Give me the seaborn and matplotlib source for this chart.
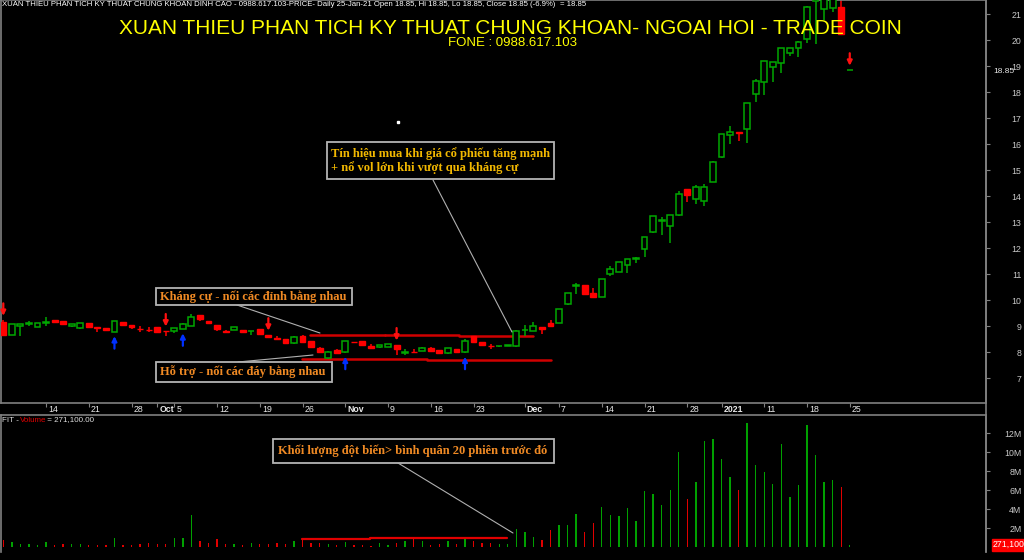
import numpy as np
import pandas as pd
import seaborn as sns
import matplotlib
matplotlib.use("Agg")
import matplotlib.pyplot as plt
import matplotlib.transforms as mtrans
from matplotlib.patches import Rectangle
from matplotlib.lines import Line2D

# ---------------- data ----------------
opens = [9.14, 8.65, 9.00, 9.08, 8.98, 9.12, 9.22, 9.20, 9.00, 8.91,
         9.10, 8.97, 8.91, 8.78, 9.14, 9.03, 8.90, 8.86, 8.95, 8.81,
         8.81, 8.89, 9.00, 9.42, 9.20, 9.04, 8.82, 8.86, 8.85, 8.79,
         8.87, 8.65, 8.53, 8.49, 8.33, 8.63, 8.42, 8.17, 7.76, 8.07,
         7.99, 8.38, 8.42, 8.23, 8.18, 8.20, 8.27, 7.98, 8.01, 8.05,
         8.17, 8.08, 7.95, 8.10, 7.99, 8.62, 8.38, 8.24, 8.22, 8.24,
         8.22, 8.84, 8.82, 8.97, 9.13, 9.13, 9.83, 10.53, 10.58, 10.26,
         10.13, 10.99, 11.09, 11.33, 11.57, 11.96, 12.63, 13.03, 12.86, 13.26,
         14.27, 13.87, 13.82, 14.55, 15.49, 16.35, 16.46, 16.57, 17.91, 18.37,
         18.95, 19.13, 19.49, 19.68, 20.03, 21.50, 21.18, 21.23, 21.26, 18.85]
highs = [9.23, 9.08, 9.09, 9.20, 9.11, 9.33, 9.23, 9.21, 9.07, 9.11,
         9.11, 8.98, 8.92, 9.20, 9.15, 9.04, 9.00, 8.97, 8.96, 8.82,
         8.92, 9.12, 9.45, 9.43, 9.21, 9.05, 8.83, 8.96, 8.86, 8.82,
         8.88, 8.66, 8.60, 8.50, 8.62, 8.64, 8.43, 8.18, 8.02, 8.10,
         8.44, 8.39, 8.43, 8.30, 8.28, 8.31, 8.28, 8.10, 8.13, 8.18,
         8.18, 8.09, 8.15, 8.11, 8.50, 8.63, 8.39, 8.30, 8.25, 8.28,
         8.85, 9.05, 9.17, 8.98, 9.23, 9.65, 10.27, 10.66, 10.59, 10.45,
         10.82, 11.32, 11.48, 11.57, 11.65, 12.42, 13.24, 13.20, 13.27, 14.20,
         14.28, 14.42, 14.45, 15.35, 16.40, 16.70, 16.47, 17.58, 18.50, 19.20,
         19.15, 19.70, 19.70, 19.95, 21.30, 22.50, 22.00, 22.00, 21.70, 18.85]
lows = [8.62, 8.64, 8.60, 9.00, 8.97, 9.00, 9.16, 9.03, 8.97, 8.90,
        8.95, 8.77, 8.84, 8.77, 9.03, 8.90, 8.78, 8.77, 8.75, 8.60,
        8.72, 8.88, 8.99, 9.20, 9.09, 8.82, 8.76, 8.85, 8.77, 8.65,
        8.68, 8.55, 8.47, 8.32, 8.32, 8.39, 8.19, 7.95, 7.75, 7.96,
        7.98, 8.36, 8.26, 8.13, 8.17, 8.19, 7.88, 7.90, 7.99, 8.04,
        8.00, 7.94, 7.94, 7.99, 7.98, 8.36, 8.26, 8.12, 8.20, 8.22,
        8.20, 8.60, 8.81, 8.69, 8.98, 9.12, 9.80, 10.23, 10.21, 10.12,
        10.12, 10.93, 11.08, 11.05, 11.43, 11.67, 12.56, 12.50, 12.20, 13.25,
        13.78, 13.70, 13.60, 14.52, 15.47, 16.00, 16.10, 16.03, 17.60, 17.90,
        18.40, 18.75, 19.40, 19.35, 19.90, 19.83, 20.77, 21.09, 20.20, 18.85]
closes = [8.65, 9.07, 9.07, 9.12, 9.10, 9.15, 9.17, 9.07, 9.06, 9.10,
          8.96, 8.92, 8.85, 9.19, 9.04, 8.97, 8.88, 8.84, 8.76, 8.79,
          8.91, 9.08, 9.33, 9.27, 9.10, 8.87, 8.77, 8.95, 8.78, 8.81,
          8.69, 8.56, 8.51, 8.33, 8.59, 8.40, 8.20, 8.01, 8.01, 7.97,
          8.43, 8.37, 8.27, 8.14, 8.27, 8.30, 8.12, 8.00, 8.00, 8.17,
          8.05, 7.95, 8.14, 8.00, 8.43, 8.37, 8.27, 8.22, 8.24, 8.26,
          8.80, 8.86, 9.00, 8.87, 8.99, 9.64, 10.26, 10.56, 10.22, 10.13,
          10.81, 11.18, 11.47, 11.56, 11.60, 12.41, 13.23, 13.07, 13.26, 14.08,
          14.05, 14.33, 14.33, 15.32, 16.38, 16.47, 16.44, 17.57, 18.42, 19.19,
          19.14, 19.68, 19.68, 19.93, 21.28, 22.30, 21.90, 21.80, 20.25, 18.85]
volumes_m = [0.77, 0.59, 0.31, 0.35, 0.20, 0.59, 0.24, 0.31, 0.35, 0.30,
             0.28, 0.28, 0.28, 0.94, 0.24, 0.24, 0.31, 0.50, 0.31, 0.35,
             0.94, 1.00, 3.40, 0.63, 0.50, 0.87, 0.35, 0.35, 0.24, 0.42,
             0.35, 0.35, 0.42, 0.38, 0.66, 0.84, 0.42, 0.42, 0.35, 0.20,
             0.55, 0.20, 0.20, 0.17, 0.42, 0.28, 0.42, 0.63, 1.10, 0.63,
             0.28, 0.38, 0.66, 0.35, 0.90, 0.63, 0.42, 0.42, 0.35, 0.35,
             1.93, 1.58, 1.08, 0.80, 1.79, 2.35, 2.35, 3.50, 1.58, 2.56,
             4.27, 3.40, 3.30, 4.10, 2.77, 5.96, 5.57, 4.45, 6.03, 10.03,
             5.08, 6.90, 11.20, 11.40, 9.26, 7.40, 6.03, 13.05, 8.66, 7.90,
             6.66, 10.87, 5.26, 6.56, 12.87, 9.70, 6.90, 7.08, 6.30, 0.2711]

date_tick_pos = [5, 10, 15, 18, 20, 25, 30, 35, 40, 45, 50, 55, 61, 65, 70, 75, 80, 84, 89, 94, 99]
date_tick_labels = ["14", "21", "28", "Oct", "5", "12", "19", "26", "Nov", "9", "16", "23",
                    "Dec", "7", "14", "21", "28", "2021", "11", "18", "25"]
price_ticks = [7, 8, 9, 10, 11, 12, 13, 14, 15, 16, 17, 18, 19, 20, 21]
volume_ticks_m = [2, 4, 6, 8, 10, 12]
volume_tick_labels = ["2M", "4M", "6M", "8M", "10M", "12M"]

buy_signals = [13, 21, 40, 54]
sell_signals = [0, 19, 31, 46, 99]

resistance_segments = [(35.9, 44.7, 8.66), (44.7, 53.3, 8.64), (53.3, 61.95, 8.62)]
support_segments = [(34.9, 49.6, 7.74), (49.6, 64.1, 7.70)]
vol_avg_segments = [(34.9, 42.9, 0.84), (42.9, 50.95, 0.98), (50.95, 58.9, 1.01)]

title = "XUAN THIEU PHAN TICH KY THUAT CHUNG KHOAN- NGOAI HOI - TRADE COIN"
subtitle = "FONE : 0988.617.103"
header = ("XUAN THIEU PHAN TICH KY THUAT CHUNG KHOAN DINH CAO - 0988.617.103-PRICE- Daily 25-Jan-21 "
          "Open 18.85, Hi 18.85, Lo 18.85, Close 18.85 (-6.9%)")
note_buy = "Tín hiệu mua khi giá cổ phiếu tăng mạnh\n+ nổ vol lớn khi vượt qua kháng cự"
note_res = "Kháng cự - nối các đỉnh bằng nhau"
note_sup = "Hỗ trợ - nối các đáy bằng nhau"
note_vol = "Khối lượng đột biến> bình quân 20 phiên trước đó"

# ---------------- style ----------------
sns.set_theme(style="dark", rc={"axes.facecolor": "black", "figure.facecolor": "black",
                                "axes.edgecolor": "#808080", "axes.grid": False})
plt.rcParams["font.family"] = ["Liberation Sans", "DejaVu Sans"]

W, H = 1024, 560
fig = plt.figure(figsize=(W / 100, H / 100), dpi=100, facecolor="black")


def fx(px):
    return px / W


def fy(py):
    return 1 - py / H


GREEN = "#00A800"
RED = "#FF0000"
VGREEN = "#00A000"
VRED = "#E00000"
GREY = "#808080"

n = len(opens)
idx = np.arange(n)
df = pd.DataFrame({"idx": idx, "open": opens, "high": highs, "low": lows,
                   "close": closes, "vol": np.array(volumes_m) * 1e6})
df["dir"] = np.where(df["close"] >= df["open"], "up", "down")

# ---------------- price panel ----------------
ax_p = fig.add_axes([fx(1), fy(403), fx(985), (403) / H])
ax_p.set_facecolor("black")
x_lo = (1 - 3.3) / 8.55
x_hi = (986 - 3.3) / 8.55
ax_p.set_xlim(x_lo, x_hi)
ax_p.set_ylim(21 - (403 - 14) / 26, 21 + 14 / 26)

up = df["dir"] == "up"
ax_p.vlines(df["idx"][up], df["low"][up], df["high"][up], colors=GREEN, lw=1.1, zorder=2)
ax_p.vlines(df["idx"][~up], df["low"][~up], df["high"][~up], colors=RED, lw=1.1, zorder=2)
bh = np.maximum(np.abs(df["close"] - df["open"]), 0.012)
bb = np.minimum(df["close"], df["open"])
ax_p.bar(df["idx"][up], bh[up], bottom=bb[up], width=0.68, facecolor="black",
         edgecolor=GREEN, linewidth=1.1, zorder=3)
ax_p.bar(df["idx"][~up], bh[~up], bottom=bb[~up], width=0.68, facecolor=RED,
         edgecolor=RED, linewidth=1.0, zorder=3)

for a, b, v in resistance_segments:
    ax_p.plot([a, b], [v, v], color="#D00000", lw=1.8, zorder=1)
for a, b, v in support_segments:
    ax_p.plot([a, b], [v, v], color="#D00000", lw=1.8, zorder=1)

for i in buy_signals:
    ax_p.annotate("", xy=(i, lows[i]), xytext=(0, -12), textcoords="offset points",
                  xycoords="data",
                  arrowprops=dict(arrowstyle="-|>", color="#0030FF", lw=1.6,
                                  mutation_scale=7, shrinkA=0, shrinkB=3))
for i in sell_signals:
    ax_p.annotate("", xy=(i, highs[i]), xytext=(0, 12), textcoords="offset points",
                  xycoords="data",
                  arrowprops=dict(arrowstyle="-|>", color="#FF1010", lw=1.6,
                                  mutation_scale=7, shrinkA=0, shrinkB=3))

ax_p.set_xticks(date_tick_pos, date_tick_labels)
ax_p.tick_params(axis="x", direction="out", length=3, width=0.8, color=GREY,
                 pad=-1.8, labelsize=6.3, labelcolor="#E8E8E8", bottom=True)
off = mtrans.ScaledTranslation(2 / 100, 0, fig.dpi_scale_trans)
for lbl in ax_p.get_xticklabels():
    lbl.set_horizontalalignment("left")
    lbl.set_transform(lbl.get_transform() + off)
    if not lbl.get_text().isdigit() or lbl.get_text() == "2021":
        lbl.set_fontweight("bold")

ax_p.yaxis.tick_right()
ax_p.set_yticks(price_ticks, [str(t) for t in price_ticks])
ax_p.tick_params(axis="y", direction="out", length=3, width=0.8, color=GREY,
                 pad=22.5, labelsize=6.3, labelcolor="#C8C8C8", left=False, right=True)
for lbl in ax_p.get_yticklabels():
    lbl.set_horizontalalignment("right")
for s in ax_p.spines.values():
    s.set_color(GREY)
    s.set_linewidth(1.2)
ax_p.set_xlabel("")
ax_p.set_ylabel("")

# last price tag
ax_p.text(1.0, closes[-1], "18.85", transform=mtrans.blended_transform_factory(
    ax_p.transAxes, ax_p.transData) + mtrans.ScaledTranslation(7 / 100, -2 / 100, fig.dpi_scale_trans),
    color="#E8E8E8", fontsize=6.0, va="center", ha="left", clip_on=False)

# stray dot
ax_p.plot([(398 - 3.3) / 8.55], [21 - (122 - 14) / 26], marker="s", ms=1.5,
          color="white", mec="white")

# ---------------- volume panel ----------------
ax_v = fig.add_axes([fx(1), fy(552), fx(985), (552 - 415) / H])
ax_v.set_facecolor("black")
sns.barplot(data=df, x="idx", y="vol", hue="dir", palette={"up": VGREEN, "down": VRED},
            native_scale=True, width=0.16, dodge=False, errorbar=None, legend=False,
            saturation=1, linewidth=0, ax=ax_v)
for a, b, v in vol_avg_segments:
    ax_v.plot([a, b], [v * 1e6, v * 1e6], color="#E00000", lw=1.6, zorder=1)
ax_v.set_xlim(x_lo, x_hi)
ax_v.set_ylim(-(552 - 547.3) / 9.5 * 1e6, (547.3 - 415) / 9.5 * 1e6)
ax_v.set_xticks([])
ax_v.set_xlabel("")
ax_v.set_ylabel("")
ax_v.yaxis.tick_right()
ax_v.set_yticks([t * 1e6 for t in volume_ticks_m], volume_tick_labels)
ax_v.tick_params(axis="y", direction="out", length=3, width=0.8, color=GREY,
                 pad=22.5, labelsize=6.3, labelcolor="#C8C8C8", left=False, right=True)
for lbl in ax_v.get_yticklabels():
    lbl.set_horizontalalignment("right")
for k, s in ax_v.spines.items():
    s.set_color(GREY)
    s.set_linewidth(1.2)
ax_v.spines["bottom"].set_visible(False)

ax_v.text(1.0, volumes_m[-1] * 1e6, "271,100", transform=mtrans.blended_transform_factory(
    ax_v.transAxes, ax_v.transData) + mtrans.ScaledTranslation(7 / 100, 0, fig.dpi_scale_trans),
    color="white", fontsize=6.3, va="center", ha="left", clip_on=False,
    bbox=dict(boxstyle="square,pad=0.15", facecolor="#FF0000", edgecolor="#FF0000"))

# vertical line through date strip
fig.add_artist(Line2D([fx(986), fx(986)], [fy(552), fy(0)], color=GREY, lw=1.2))

# ---------------- texts ----------------
fig.text(fx(2), fy(5), header, color="white", fontsize=5.6, va="center", ha="left")
fig.text(fx(560), fy(5), "= 18.85", color="white", fontsize=5.6, va="center", ha="left")
fig.text(fx(510), fy(28), title, color="#FFFF00", fontsize=15, va="center", ha="center")
fig.text(fx(512), fy(43), subtitle, color="#FFFF00", fontsize=9.5, va="center", ha="center")

fig.text(fx(2), fy(420), "FIT - ", color="#E0E0E0", fontsize=5.8, va="center", ha="left")
fig.text(fx(20), fy(420), "Volume", color="#E00000", fontsize=5.8, va="center", ha="left")
fig.text(fx(45), fy(420), " = 271,100.00", color="#E0E0E0", fontsize=5.8, va="center", ha="left")


def box(x0, y0, x1, y1):
    fig.add_artist(Rectangle((fx(x0), fy(y1)), fx(x1) - fx(x0), fy(y0) - fy(y1),
                             transform=fig.transFigure, facecolor="black",
                             edgecolor="#B4B4B4", lw=1.3, zorder=5))


def link(x0, y0, x1, y1):
    fig.add_artist(Line2D([fx(x0), fx(x1)], [fy(y0), fy(y1)], color="#B0B0B0", lw=0.8, zorder=4))


serif = ["Liberation Serif", "DejaVu Serif"]

link(433, 180, 512, 332)
box(327, 142, 554, 179)
fig.text(fx(331), fy(160.5), note_buy, color="#F2B800", fontsize=9, fontweight="bold",
         family=serif, va="center", ha="left", linespacing=1.15, zorder=6)

link(237, 305, 320, 333)
box(156, 288, 352, 305)
fig.text(fx(160), fy(296.5), note_res, color="#F08A24", fontsize=9, fontweight="bold",
         family=serif, va="center", ha="left", zorder=6)

link(238, 362, 313, 355)
box(156, 362, 332, 382)
fig.text(fx(160), fy(372), note_sup, color="#F08A24", fontsize=9, fontweight="bold",
         family=serif, va="center", ha="left", zorder=6)

link(398, 463, 513, 533)
box(273, 439, 554, 463)
fig.text(fx(278), fy(451), note_vol, color="#F08A24", fontsize=9, fontweight="bold",
         family=serif, va="center", ha="left", zorder=6)

fig.savefig("out.png", dpi=100, facecolor="black")
